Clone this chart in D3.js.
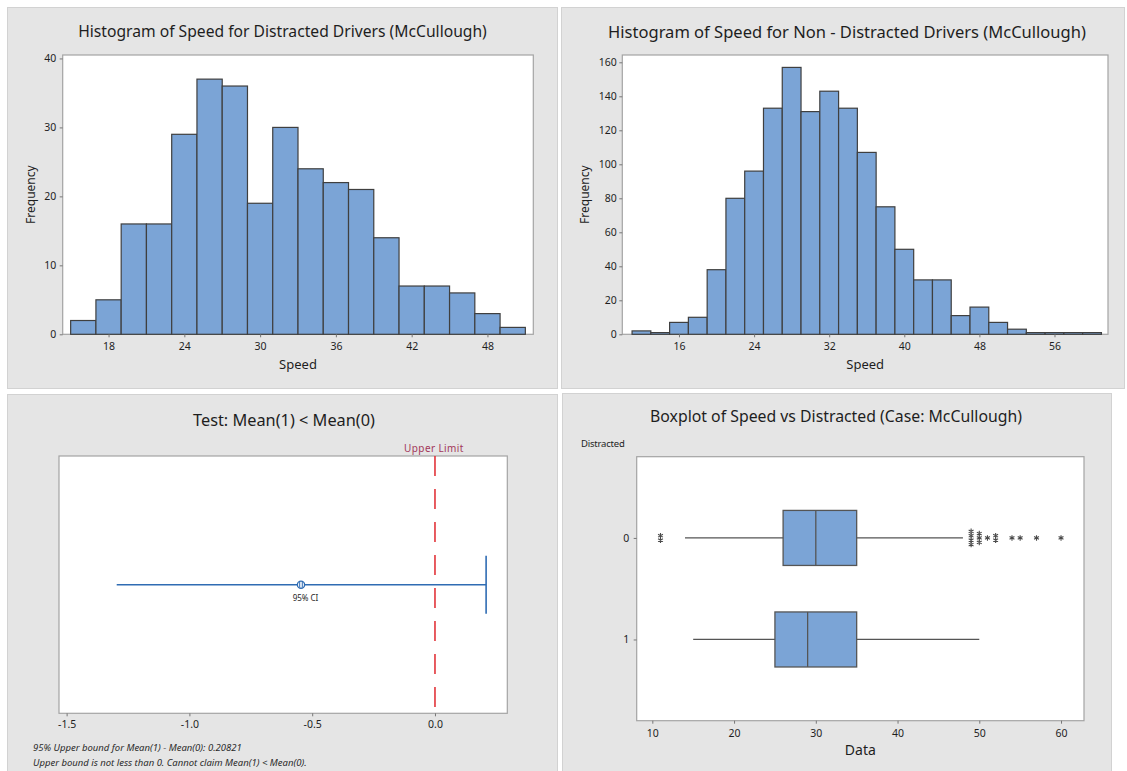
<!DOCTYPE html>
<html>
<head>
<meta charset="utf-8">
<script src="https://cdn.jsdelivr.net/npm/d3@7"></script>
<style>
  html, body { margin: 0; padding: 0; background: #ffffff; }
  svg { display: block; font-family: "Noto Sans", "Open Sans", sans-serif; }
</style>
</head>
<body>
<svg id="chart" width="1127" height="771"></svg>
<script>
// ---------- Data ----------
const binWidth = 2;

// Distracted drivers (group 1)
const distractedMidpoints = [16, 18, 20, 22, 24, 26, 28, 30, 32, 34, 36, 38, 40, 42, 44, 46, 48, 50];
const distractedCounts    = [2, 5, 16, 16, 29, 37, 36, 19, 30, 24, 22, 21, 14, 7, 7, 6, 3, 1];
const distractedXTicks = [18, 24, 30, 36, 42, 48];
const distractedYTicks = [0, 10, 20, 30, 40];

// Non-distracted drivers (group 0)
const nonDistractedMidpoints = [12, 14, 16, 18, 20, 22, 24, 26, 28, 30, 32, 34, 36, 38, 40, 42, 44, 46, 48, 50, 52, 54, 56, 58, 60];
const nonDistractedCounts    = [2, 1, 7, 10, 38, 80, 96, 133, 157, 131, 143, 133, 107, 75, 50, 32, 32, 11, 16, 7, 3, 1, 1, 1, 1];
const nonDistractedXTicks = [16, 24, 32, 40, 48, 56];
const nonDistractedYTicks = [0, 20, 40, 60, 80, 100, 120, 140, 160];

// One-sided test of Mean(1) - Mean(0)
const ciEstimate = -0.5456;
const ciUpperBound = 0.20821;
const ciLowerDrawnEnd = -1.296;
const upperLimit = 0.0;
const ciXTicks = [-1.5, -1.0, -0.5, 0.0];

// Boxplot of Speed by Distracted
const boxGroups      = ["0", "1"];
const boxQ1          = [26, 25];
const boxMedian      = [30, 29];
const boxQ3          = [35, 35];
const boxWhiskerLow  = [14, 15];
const boxWhiskerHigh = [48, 50];
const boxOutliers0   = [11, 11, 49, 49, 49, 49, 50, 50, 50, 51, 52, 52, 54, 55, 57, 60];
const boxOutliers1   = [];
const boxXTicks = [10, 20, 30, 40, 50, 60];

// ---------- Styling ----------
const PANEL_FILL = "#e5e5e5";
const PANEL_STROKE = "#d2d2d2";
const FRAME_STROKE = "#a3a3a3";
const BAR_FILL = "#7ba4d6";
const BAR_STROKE = "#3f3f3f";
const TEXT = "#1e1e1e";
const TICK_COLOR = "#777";

const svg = d3.select("#chart");
svg.append("rect").attr("width", 1127).attr("height", 771).attr("fill", "#ffffff");

function panel(x, y, w, h) {
  svg.append("rect").attr("x", x + 0.5).attr("y", y + 0.5).attr("width", w).attr("height", h)
    .attr("fill", PANEL_FILL).attr("stroke", PANEL_STROKE);
}

function frame(x0, x1, y0, y1) {
  svg.append("rect").attr("x", x0).attr("y", y0).attr("width", x1 - x0).attr("height", y1 - y0)
    .attr("fill", "#ffffff").attr("stroke", FRAME_STROKE).attr("stroke-width", 1.2);
}

function title(text, cx, cy, targetWidth) {
  const t = svg.append("text").attr("x", cx).attr("y", cy).attr("dy", "0.35em")
    .attr("text-anchor", "middle").attr("fill", TEXT).style("font-size", "15px").text(text);
  const w = t.node().getComputedTextLength();
  t.style("font-size", (15 * targetWidth / w).toFixed(2) + "px");
  return t;
}

function styleAxis(g, fontSize) {
  g.select(".domain").remove();
  g.selectAll(".tick line").attr("stroke", TICK_COLOR);
  g.selectAll(".tick text").attr("fill", TEXT).style("font-size", fontSize + "px")
    .style("font-family", "\"Noto Sans\", sans-serif");
}

function bottomAxis(scale, ticks, y, fmt, pad) {
  const g = svg.append("g").attr("transform", `translate(0,${y})`)
    .call(d3.axisBottom(scale).tickValues(ticks).tickSize(3).tickPadding(pad).tickFormat(fmt));
  styleAxis(g, 10.5);
  return g;
}

function leftAxis(scale, ticks, x, fmt, pad) {
  const g = svg.append("g").attr("transform", `translate(${x},0)`)
    .call(d3.axisLeft(scale).tickValues(ticks).tickSize(3).tickPadding(pad).tickFormat(fmt));
  styleAxis(g, 10.5);
  return g;
}

function axisLabel(text, x, y, size, rotate) {
  const t = svg.append("text").attr("text-anchor", "middle").attr("fill", TEXT)
    .style("font-size", size + "px").text(text);
  if (rotate) t.attr("transform", `translate(${x},${y}) rotate(-90)`).attr("dy", "0.35em");
  else t.attr("x", x).attr("y", y);
  return t;
}

function histogram(opts) {
  const { px, py, pw, ph, fx0, fx1, fy0, fy1, xDomain, yMax, mids, counts, xTicks, yTicks,
          titleText, titleCx, titleW, yPad, freqX } = opts;
  panel(px, py, pw, ph);
  title(titleText, titleCx, py + 25, titleW);
  frame(fx0, fx1, fy0, fy1);

  const x = d3.scaleLinear().domain(xDomain).range([fx0, fx1]);
  const y = d3.scaleLinear().domain([0, yMax]).range([fy1, fy0]);

  svg.append("g").selectAll("rect").data(mids.map((m, i) => ({ m, c: counts[i] })))
    .join("rect")
    .attr("x", d => x(d.m - binWidth / 2))
    .attr("width", d => x(d.m + binWidth / 2) - x(d.m - binWidth / 2))
    .attr("y", d => y(d.c))
    .attr("height", d => y(0) - y(d.c))
    .attr("fill", BAR_FILL).attr("stroke", BAR_STROKE).attr("stroke-width", 1.2);

  bottomAxis(x, xTicks, fy1, d3.format("d"), 5.5);
  leftAxis(y, yTicks, fx0, d3.format("d"), yPad);
  axisLabel("Speed", (fx0 + fx1) / 2, 369, 13, false);
  axisLabel("Frequency", freqX, (fy0 + fy1) / 2, 12, true);
}

// ---------- Top-left: distracted histogram ----------
histogram({
  px: 7, py: 7, pw: 550, ph: 381,
  fx0: 62.7, fx1: 533.3, fy0: 55, fy1: 334.3,
  xDomain: [14.37, 51.63], yMax: 40.5,
  mids: distractedMidpoints, counts: distractedCounts,
  xTicks: distractedXTicks, yTicks: distractedYTicks,
  titleText: "Histogram of Speed for Distracted Drivers (McCullough)",
  titleCx: 282.5, titleW: 409, yPad: 3.5, freqX: 31
});

// ---------- Top-right: non-distracted histogram ----------
histogram({
  px: 561, py: 7, pw: 563, ph: 381,
  fx0: 622.3, fx1: 1108, fy0: 55, fy1: 334.3,
  xDomain: [9.96, 61.7], yMax: 164.3,
  mids: nonDistractedMidpoints, counts: nonDistractedCounts,
  xTicks: nonDistractedXTicks, yTicks: nonDistractedYTicks,
  titleText: "Histogram of Speed for Non - Distracted Drivers (McCullough)",
  titleCx: 847, titleW: 478, yPad: 2.5, freqX: 585
});

// ---------- Bottom-left: one-sided confidence bound ----------
(function () {
  panel(7, 394, 550, 377);
  title("Test: Mean(1) < Mean(0)", 284, 420, 182);
  const fx0 = 59, fx1 = 507.3, fy0 = 456, fy1 = 713.3;
  frame(fx0, fx1, fy0, fy1);
  const x = d3.scaleLinear().domain([-1.531, 0.2945]).range([fx0, fx1]);
  const y = d3.scaleBand().domain(["diff"]).range([fy0, fy1]);
  const cy = y("diff") + y.bandwidth() / 2;

  // Reference line at the upper limit
  svg.append("line").attr("x1", x(upperLimit)).attr("x2", x(upperLimit))
    .attr("y1", fy0).attr("y2", 707)
    .attr("stroke", "#e2353b").attr("stroke-width", 1.6).attr("stroke-dasharray", "20,13");
  svg.append("text").attr("x", x(upperLimit) - 1).attr("y", 452).attr("text-anchor", "middle")
    .attr("fill", "#a3375a").style("font-size", "10px").style("letter-spacing", "0.4px")
    .text("Upper Limit");

  const blue = "#2f6cb3";
  svg.append("line").attr("x1", x(ciLowerDrawnEnd)).attr("x2", x(ciUpperBound))
    .attr("y1", cy).attr("y2", cy).attr("stroke", blue).attr("stroke-width", 1.5);
  svg.append("line").attr("x1", x(ciUpperBound)).attr("x2", x(ciUpperBound))
    .attr("y1", cy - 29).attr("y2", cy + 29).attr("stroke", blue).attr("stroke-width", 1.6);

  // Estimate marker
  const mx = x(ciEstimate);
  svg.append("circle").attr("cx", mx).attr("cy", cy).attr("r", 3.6)
    .attr("fill", "#ffffff").attr("stroke", blue).attr("stroke-width", 1.3);
  svg.append("path")
    .attr("d", `M${mx - 1.3},${cy - 3}V${cy + 3}M${mx + 1.3},${cy - 3}V${cy + 3}`)
    .attr("stroke", blue).attr("stroke-width", 1);
  svg.append("text").attr("x", mx + 4.5).attr("y", cy + 16).attr("text-anchor", "middle")
    .attr("fill", TEXT).style("font-size", "8px").text("95% CI");

  bottomAxis(x, ciXTicks, fy1, d => d.toFixed(1), 4.5);

  const notes = [
    "95% Upper bound for Mean(1) - Mean(0): " + ciUpperBound.toFixed(5),
    "Upper bound is not less than 0. Cannot claim Mean(1) < Mean(0)."
  ];
  svg.append("g").selectAll("text").data(notes).join("text")
    .attr("x", 33).attr("y", (d, i) => 751 + i * 15)
    .attr("fill", "#2a2a2a").style("font-size", "9.5px").style("font-style", "italic")
    .text(d => d);
})();

// ---------- Bottom-right: boxplot ----------
(function () {
  panel(562, 393, 549, 378);
  title("Boxplot of Speed vs Distracted (Case: McCullough)", 836, 416, 372);
  svg.append("text").attr("x", 581).attr("y", 447).attr("fill", TEXT)
    .style("font-size", "9.5px").style("letter-spacing", "-0.2px").text("Distracted");

  const fx0 = 636.7, fx1 = 1084, fy0 = 456.7, fy1 = 720.7;
  frame(fx0, fx1, fy0, fy1);
  const x = d3.scaleLinear().domain([8.09, 62.81]).range([fx0, fx1]);
  const y = d3.scalePoint().domain(boxGroups).range([fy0, fy1]).padding(0.8);
  const boxH = y.step() * 0.542;
  const stroke = "#555555";

  const stats = boxGroups.map((g, i) => ({
    g, q1: boxQ1[i], med: boxMedian[i], q3: boxQ3[i], lo: boxWhiskerLow[i], hi: boxWhiskerHigh[i]
  }));
  const gBox = svg.append("g");
  // whiskers
  gBox.selectAll("line.whisker").data(stats).join("line").attr("class", "whisker")
    .attr("x1", d => x(d.lo)).attr("x2", d => x(d.hi))
    .attr("y1", d => y(d.g)).attr("y2", d => y(d.g))
    .attr("stroke", stroke).attr("stroke-width", 1.2);
  // boxes
  gBox.selectAll("rect").data(stats).join("rect")
    .attr("x", d => x(d.q1)).attr("width", d => x(d.q3) - x(d.q1))
    .attr("y", d => y(d.g) - boxH / 2).attr("height", boxH)
    .attr("fill", BAR_FILL).attr("stroke", stroke).attr("stroke-width", 1.3);
  // medians
  gBox.selectAll("line.median").data(stats).join("line").attr("class", "median")
    .attr("x1", d => x(d.med)).attr("x2", d => x(d.med))
    .attr("y1", d => y(d.g) - boxH / 2).attr("y2", d => y(d.g) + boxH / 2)
    .attr("stroke", stroke).attr("stroke-width", 1.3);

  // outliers: tied values stacked vertically as asterisks
  const outlierSets = [boxOutliers0, boxOutliers1];
  const pts = [];
  outlierSets.forEach((vals, gi) => {
    const counts = d3.rollup(vals, v => v.length, v => v);
    counts.forEach((n, v) => {
      for (let k = 0; k < n; k++) {
        pts.push({ v, g: boxGroups[gi], off: (k - (n - 1) / 2) * 4.4 });
      }
    });
  });
  const s = 2.8;
  gBox.selectAll("path.outlier").data(pts).join("path").attr("class", "outlier")
    .attr("d", d => {
      const cx = x(d.v), cy = y(d.g) + d.off;
      return `M${cx},${cy - s}L${cx},${cy + s}` +
             `M${cx - s * 0.87},${cy - s * 0.5}L${cx + s * 0.87},${cy + s * 0.5}` +
             `M${cx - s * 0.87},${cy + s * 0.5}L${cx + s * 0.87},${cy - s * 0.5}`;
    })
    .attr("fill", "none").attr("stroke", "#4a4a4a").attr("stroke-width", 1.1);

  bottomAxis(x, boxXTicks, fy1, d3.format("d"), 5.5);
  leftAxis(y, boxGroups, fx0, d => d, 4.5);
  axisLabel("Data", (fx0 + fx1) / 2, 755, 14, false);
})();
</script>
</body>
</html>
